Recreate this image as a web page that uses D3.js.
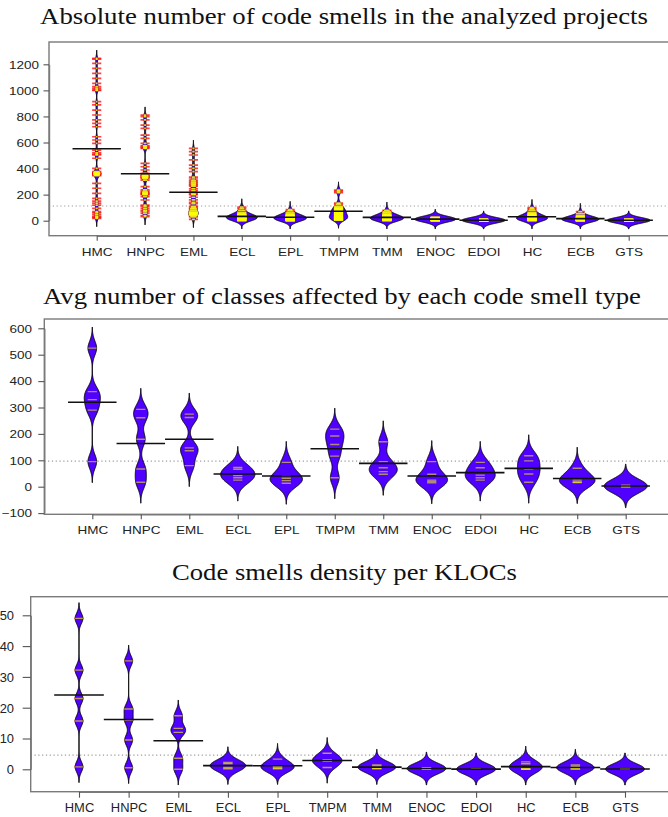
<!DOCTYPE html>
<html><head><meta charset="utf-8">
<script src="https://cdn.jsdelivr.net/npm/d3@7"></script>
<style>body{margin:0;background:#fff}svg{display:block}</style>
</head><body>
<script>
// ---------------- DATA ----------------
const categories = ["HMC","HNPC","EML","ECL","EPL","TMPM","TMM","ENOC","EDOI","HC","ECB","GTS"];
const titles = [
  "Absolute number of code smells in the analyzed projects",
  "Avg number of classes affected by each code smell type",
  "Code smells density per KLOCs"
];
const ticksAbsolute = [0,200,400,600,800,1000,1200];
const ticksClasses = [-100,0,100,200,300,400,500,600];
const ticksDensity = [0,10,20,30,40,50];
// overall mean (dotted line)
const overallMeans = [113, 97, 4.6];

// Panel 1: absolute number of code smells (one array per category, same order as categories)
const absoluteCounts = [
  [1246,1240,1207,1169,1131,1092,1054,1028,1015,1003,1000,913,888,849,811,773,747,721,644,619,594,542,520,510,504,479,402,376,370,365,362,360,358,355,351,345,287,249,210,172,150,135,120,95,69,60,44,30,25,18],
  [810,798,773,734,709,657,632,594,575,568,560,555,440,414,389,363,350,345,340,335,330,325,312,261,236,225,215,210,205,200,184,159,120,110,95,80,70,57,40,31],
  [555,530,504,466,427,402,376,335,320,305,295,285,275,265,245,230,215,205,200,180,160,140,130,110,100,90,80,70,60,60,55,50,45,40,30,10],
  [0,2,5,8,10,12,14,15,16,18,20,22,24,25,26,28,30,32,34,35,38,40,42,45,50,55,65,80,95,105],
  [0,1,2,4,5,6,8,10,12,14,15,16,18,20,22,24,25,26,28,30,32,34,36,38,40,45,50,60,75,85],
  [235,225,215,135,125,110,100,95,90,85,80,75,70,65,60,55,50,45,40,35,30,28,25,20,18,15,12,10,8,5],
  [0,2,4,5,6,8,10,10,12,14,15,16,18,20,20,22,24,25,26,28,30,32,35,38,40,45,50,60,70,80],
  [0,0,1,2,3,4,5,5,6,7,8,9,10,10,11,12,12,13,14,15,16,17,18,19,20,21,22,23,24,25],
  [0,0,0,0,0,0,0,1,1,1,1,2,2,2,2,3,3,3,3,4,4,5,5,6,6,7,8,9,10,12],
  [0,2,4,5,6,8,10,12,14,15,16,18,20,20,22,24,25,26,28,30,32,35,40,45,50,55,65,80,90,100],
  [0,0,1,2,3,4,5,5,6,7,8,8,9,10,10,11,12,13,14,15,16,18,20,22,25,28,32,40,55,70],
  [0,0,0,0,0,0,0,0,1,1,1,1,1,2,2,2,2,3,3,3,4,4,4,5,5,6,7,8,10,12]
];
// Panel 2: avg number of classes affected
const classesAffected = [
  [525,360,330,290,95],
  [293,261,180,67,17],
  [275,262,147,136,80],
  [73,66,42,34,25],
  [92,42,32,23,13],
  [218,192,160,116,34],
  [170,95,72,57,47],
  [95,47,25,20,15],
  [92,72,44,34,25],
  [117,98,67,48,17],
  [70,30,22,17,16],
  [6,4,2,0,0]
];
// Panel 3: code smells density per KLOC
const densityPerKloc = [
  [49,32.2,23,15.7,0.8],
  [35.2,19.6,16,9.5,0.5],
  [17.4,13.3,12,3.6,0],
  [2.2,1.8,1.2,0.6,0.2],
  [3.3,1.0,0.8,0.4,0.2],
  [5.2,3.1,2.9,2.6,0.6],
  [1.4,1.0,0.5,0.4,0.2],
  [0.5,0.3,0.3,0.1,0.0],
  [0.2,0.1,0,0,0],
  [2.4,1.8,0.1,0.1,0.0],
  [1.4,0.9,0.3,0.2,0.1],
  [0.2,0.1,0.1,0,0]
];

// ---------------- LAYOUT / STYLE ----------------
const panels = [
  {title:titles[0], data:absoluteCounts, ticks:ticksAbsolute, overall:overallMeans[0],
   bw:21, maxHalf:21.5, titleY:24, titleX:[40,648],
   box:{l:49,r:677,t:42,b:235.7}, py:[220.7,64.3], px:[96.7,628.7],
   labelRight:39, yTick:5.5, xTick:5, xLabelBase:255.7, font:10.8, sx:1.25,
   yellowOp:0.85, redOp:0.75, lineW:1.7},
  {title:titles[1], data:classesAffected, ticks:ticksClasses, overall:overallMeans[1],
   bw:26.5, maxHalf:21.5, titleY:304, titleX:[43,641],
   box:{l:44.3,r:675,t:319,b:514.3}, py:[513.1,328.3], px:[92.3,625.7],
   labelRight:32, yTick:6, xTick:5, xLabelBase:534, font:10.8, sx:1.25,
   yellowOp:0.55, redOp:0.6, lineW:1.4},
  {title:titles[2], data:densityPerKloc, ticks:ticksDensity, overall:overallMeans[2],
   bw:1.7, maxHalf:19.5, titleY:580, titleX:[172,517],
   box:{l:30.7,r:675,t:596.7,b:791.7}, py:[769.3,615.3], px:[79,625],
   labelRight:14, yTick:8, xTick:6, xLabelBase:812.5, font:12.3, sx:1.05,
   yellowOp:0.6, redOp:0.6, lineW:1.4}
];

const BEAN_FILL = "#5000ff";
const W = 668, H = 817;
const svg = d3.select("body").append("svg").attr("width", W).attr("height", H);

function kde(values, bw, y) {
  const k = 1 / (values.length * bw * Math.sqrt(2 * Math.PI));
  let s = 0;
  for (const v of values) { const z = (y - v) / bw; s += Math.exp(-0.5 * z * z); }
  return s * k;
}

panels.forEach(p => {
  const g = svg.append("g");
  const ext = d3.extent(p.ticks);
  const y = d3.scaleLinear().domain(ext).range(p.py);
  const x = d3.scalePoint().domain(categories).range(p.px);
  const step = x.step();

  // title
  g.append("text").attr("x", p.titleX[0]).attr("y", p.titleY)
    .attr("textLength", p.titleX[1] - p.titleX[0]).attr("lengthAdjust", "spacingAndGlyphs")
    .attr("font-family", "'Liberation Serif', 'DejaVu Serif', serif").attr("font-size", 22.5)
    .attr("fill", "#111").text(p.title);

  // overall mean dotted line
  g.append("line").attr("x1", p.box.l).attr("x2", p.box.r)
    .attr("y1", y(p.overall)).attr("y2", y(p.overall))
    .attr("stroke", "#9a9a9a").attr("stroke-width", 1.1).attr("stroke-dasharray", "1.2,2.6");

  // densities
  const beans = p.data.map((vals, i) => {
    const lo = d3.min(vals) - 3 * p.bw, hi = d3.max(vals) + 3 * p.bw;
    const n = 300;
    const pts = d3.range(n).map(j => { const v = lo + (hi - lo) * j / (n - 1); return [v, kde(vals, p.bw, v)]; });
    return {cat: categories[i], vals, pts, mean: d3.mean(vals)};
  });
  const maxD = d3.max(beans, b => d3.max(b.pts, d => d[1]));
  const wScale = d3.scaleLinear().domain([0, maxD]).range([0, p.maxHalf]);

  const clipId = "clip" + p.titleY;
  svg.append("clipPath").attr("id", clipId).append("rect")
    .attr("x", p.box.l).attr("y", p.box.t).attr("width", p.box.r - p.box.l).attr("height", p.box.b - p.box.t);
  const plot = g.append("g").attr("clip-path", `url(#${clipId})`);

  beans.forEach(b => {
    const cx = x(b.cat);
    const area = d3.area().y(d => y(d[0])).x0(d => cx - wScale(d[1])).x1(d => cx + wScale(d[1]));
    plot.append("path").attr("d", area(b.pts)).attr("fill", BEAN_FILL)
      .attr("stroke", "#000").attr("stroke-width", 1).attr("stroke-linejoin", "round");
  });

  // beanlines: yellow inside the bean, red outside
  const half = step * 0.095;
  beans.forEach(b => {
    const cx = x(b.cat);
    b.vals.forEach(v => {
      const w = wScale(kde(b.vals, p.bw, v));
      const yy = y(v);
      if (w < half) {
        [[-half, -w], [w, half]].forEach(([a, c]) => {
          plot.append("line").attr("x1", cx + a).attr("x2", cx + c).attr("y1", yy).attr("y2", yy)
            .attr("stroke", "#ff0000").attr("stroke-width", p.lineW).attr("stroke-opacity", p.redOp);
        });
      }
      const iw = Math.min(w, half);
      plot.append("line").attr("x1", cx - iw).attr("x2", cx + iw).attr("y1", yy).attr("y2", yy)
        .attr("stroke", "#ffff00").attr("stroke-width", p.lineW).attr("stroke-opacity", p.yellowOp);
    });
  });

  // bean mean lines
  beans.forEach(b => {
    const cx = x(b.cat);
    plot.append("line").attr("x1", cx - step / 2).attr("x2", cx + step / 2)
      .attr("y1", y(b.mean)).attr("y2", y(b.mean))
      .attr("stroke", "#111").attr("stroke-width", 1.6);
  });

  // box
  g.append("rect").attr("x", p.box.l).attr("y", p.box.t)
    .attr("width", p.box.r - p.box.l).attr("height", p.box.b - p.box.t)
    .attr("fill", "none").attr("stroke", "#7a7a7a").attr("stroke-width", 1.4);

  // y axis
  const ya = g.append("g").attr("transform", `translate(${p.box.l},0)`)
    .call(d3.axisLeft(y).tickValues(p.ticks).tickSize(p.yTick).tickSizeOuter(0).tickFormat(d3.format("d")));
  ya.select(".domain").attr("stroke", "#7a7a7a").attr("stroke-width", 1.4);
  ya.selectAll(".tick line").attr("stroke", "#555").attr("stroke-width", 1.1);
  ya.selectAll(".tick text")
    .attr("x", -(p.box.l - p.labelRight) / p.sx).attr("dy", "0.36em")
    .attr("transform", `scale(${p.sx},1)`)
    .attr("font-family", "'Liberation Sans', Arial, sans-serif").attr("font-size", p.font).attr("fill", "#222");

  // x axis
  const xa = g.append("g").attr("transform", `translate(0,${p.box.b})`)
    .call(d3.axisBottom(x).tickSize(p.xTick).tickSizeOuter(0));
  xa.select(".domain").attr("stroke", "#7a7a7a").attr("stroke-width", 1.4);
  xa.selectAll(".tick line").attr("stroke", "#555").attr("stroke-width", 1.1);
  xa.selectAll(".tick text")
    .attr("y", p.xLabelBase - p.box.b).attr("dy", "0")
    .attr("transform", `scale(${p.sx},1)`)
    .attr("font-family", "'Liberation Sans', Arial, sans-serif").attr("font-size", p.font).attr("fill", "#222");
});
</script>
</body></html>
